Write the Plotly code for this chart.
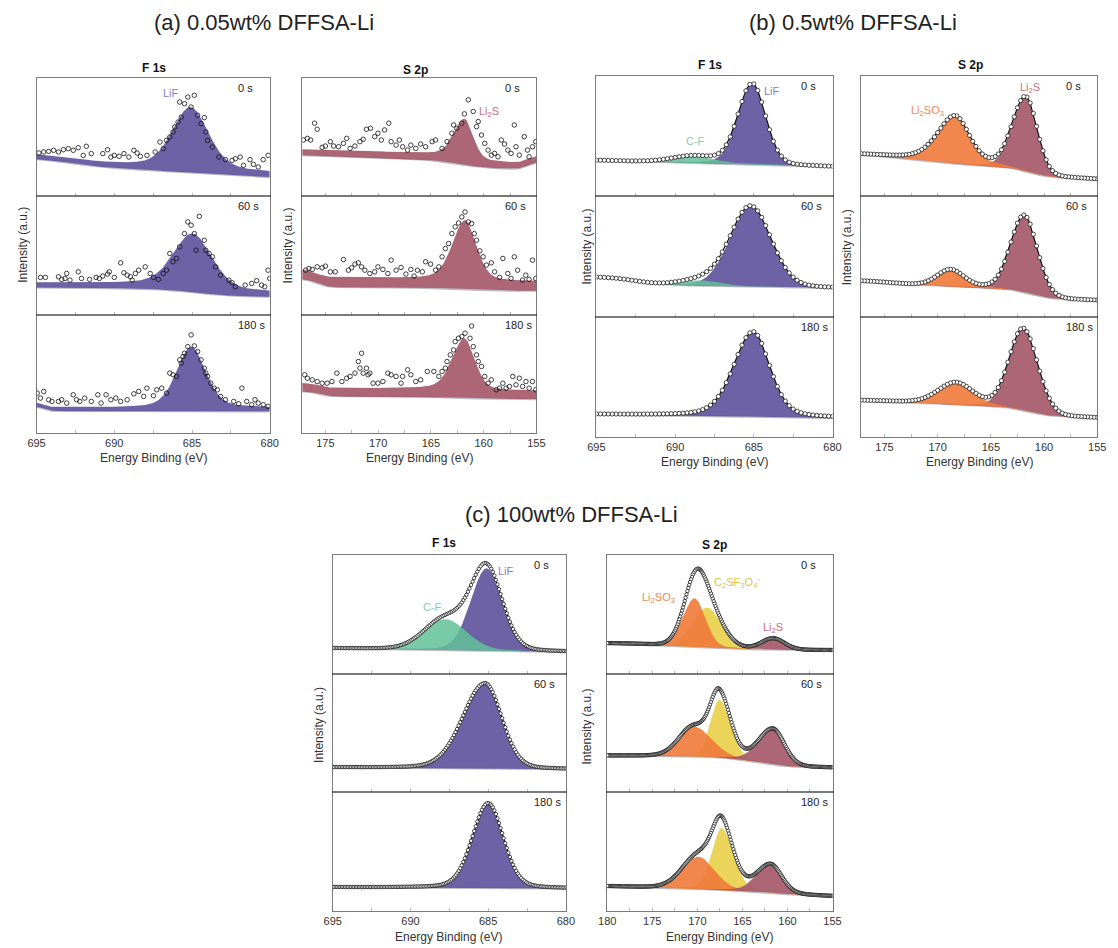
import numpy as np
import plotly.graph_objects as go

W, H = 1118, 948
FONT = "Liberation Sans, Arial, sans-serif"

# ---- energy axes -------------------------------------------------------------
F1S_RANGE = (695.0, 680.0)
S2P_RANGE_AB = (177.2, 155.0)
S2P_RANGE_C = (180.0, 155.0)
F1S_TICKS = [695, 690, 685, 680]
S2P_TICKS_AB = [175, 170, 165, 160, 155]
S2P_TICKS_C = [180, 175, 170, 165, 160, 155]
SPUTTER_TIMES = ["0 s", "60 s", "180 s"]

# ---- backgrounds, one per sputter time ---------------------------------------
# (value at low-BE end, slope per eV, band thickness, [(step, centre eV, width eV)])
A_F1S_BG = [(16.3, 0.75, 4.0, [(4.0, 692.5, 0.8)]),
            (15.0, 0.10, 4.2, [(6.5, 684.8, 1.2)]),
            (18.3, 0.00, 3.0, [(4.5, 694.5, 0.25)])]
A_S2P_BG = [(22.5, 0.28, 5.0, [(6.0, 162.5, 1.2), (7.0, 155.8, -0.4)]),
            (20.2, 0.05, 8.0, [(2.0, 161.5, 1.0), (7.0, 175.8, 0.5)]),
            (28.7, 0.00, 7.0, [(2.0, 161.5, 1.0), (4.5, 175.5, 0.5)])]
B_F1S_BG = [(24.6, 0.36, 0.0, []),
            (24.0, 0.20, 0.0, [(6.0, 692.5, 0.8)]),
            (15.9, 0.19, 0.0, [])]
B_S2P_BG = [(14.1, 0.40, 0.0, [(7.0, 161.5, 0.8), (5.0, 172.0, 2.0)]),
            (13.5, 0.25, 0.0, [(8.0, 161.3, 0.9), (3.0, 174.0, 1.5)]),
            (15.9, 0.25, 0.0, [(7.5, 161.5, 1.0), (1.5, 172.0, 1.5)])]
C_F1S_BG = [(18.4, 0.20, 0.0, []),
            (19.5, 0.10, 0.0, []),
            (19.0, 0.07, 0.0, [])]
C_S2P_BG = [(19.8, 0.00, 0.0, [(3.0, 166.0, 2.0), (3.0, 175.0, 2.0)]),
            (20.7, 0.05, 0.0, [(9.0, 163.5, 1.8)]),
            (12.3, 0.22, 0.0, [(3.0, 162.0, 1.5)])]

# ---- fitted components: (centre eV, height, HWHM high-BE side, HWHM low-BE side, Lorentz fraction)
A_F1S_LIF = [(685.10, 51.4, 1.35, 1.35, 0.30),
             (684.95, 45.5, 1.45, 1.45, 0.30),
             (685.05, 51.7, 1.10, 1.10, 0.35)]
A_S2P_LI2S = [(161.80, 34.0, 1.20, 0.95, 0.35),
              (161.76, 50.1, 1.40, 1.25, 0.30),
              (161.82, 43.2, 1.35, 1.15, 0.30)]

B_F1S_LIF = [(685.10, 67.4, 1.07, 1.00, 0.15),
             (685.20, 67.0, 1.53, 1.52, 0.10),
             (685.05, 70.7, 1.45, 1.25, 0.30)]
B_F1S_CF = [(688.80, 5.5, 1.6, 1.6, 0.0),
            (688.40, 4.5, 1.5, 1.5, 0.0),
            None]
B_S2P_LI2S = [(161.70, 61.5, 1.48, 1.25, 0.10),
              (161.85, 63.9, 1.50, 1.45, 0.10),
              (161.95, 68.0, 1.55, 1.60, 0.10)]
B_S2P_LI2SO3 = [(168.35, 39.8, 2.0, 1.6, 0.40),
                (168.80, 14.1, 1.5, 1.5, 0.20),
                (168.30, 18.4, 2.0, 1.9, 0.20)]

C_F1S_LIF = [(685.10, 69.4, 1.20, 1.20, 0.15),
             (685.20, 72.0, 1.70, 1.27, 0.15),
             (685.00, 71.6, 1.20, 1.15, 0.20)]
C_F1S_CF = [(687.75, 26.0, 1.6, 1.6, 0.10), None, None]
C_S2P_C2SF3O4 = [(168.90, 33.3, 1.90, 1.90, 0.10),
                 (167.55, 48.5, 1.15, 1.45, 0.10),
                 (167.30, 52.0, 1.25, 1.50, 0.25)]
C_S2P_LI2SO3 = [(170.30, 40.8, 1.5, 1.4, 0.10),
                (170.40, 25.3, 1.9, 2.3, 0.10),
                (169.90, 27.2, 2.1, 2.1, 0.10)]
C_S2P_LI2S = [(161.60, 9.5, 1.5, 1.5, 0.10),
              (161.60, 30.1, 1.9, 1.5, 0.15),
              (161.85, 23.5, 1.8, 1.45, 0.20)]

# ---- measured counts for the 0.05wt% sample (binding energy eV, intensity) ----
A_F1S_SCAN_0 = [(694.85, 36.6), (694.54, 37.5), (694.22, 38.0), (693.90, 38.9), (693.59, 37.5),
                (693.27, 39.4), (692.96, 40.3), (692.64, 38.9), (692.32, 41.1), (692.00, 34.6),
                (691.80, 42.3), (691.48, 36.1), (690.74, 36.1), (690.43, 39.4), (690.22, 33.2),
                (690.00, 34.6), (689.69, 33.8), (689.38, 36.1), (689.06, 33.2), (688.74, 38.9),
                (688.53, 36.6), (688.32, 33.8), (687.90, 34.6), (687.37, 37.5), (687.06, 45.9),
                (686.85, 40.3), (686.64, 47.3), (686.43, 50.1), (686.22, 54.4), (686.11, 58.6),
                (685.90, 62.8), (685.79, 79.7), (685.69, 67.0), (685.48, 78.3), (685.27, 83.9),
                (685.06, 75.5), (684.85, 85.4), (684.64, 68.5), (684.42, 61.4), (684.21, 66.5),
                (684.11, 54.4), (684.00, 47.3), (683.69, 41.7), (683.27, 33.2), (682.85, 31.0),
                (682.42, 30.4), (682.21, 31.8), (681.90, 33.2), (681.69, 26.2), (681.27, 31.0),
                (681.05, 27.0), (680.74, 24.8), (680.42, 31.0), (680.10, 34.6)]
A_F1S_SCAN_60 = [(694.75, 31.5), (694.43, 31.5), (693.59, 32.0), (693.38, 29.8), (693.17, 30.6),
                 (693.06, 34.8), (692.85, 29.2), (692.32, 36.2), (692.11, 30.6), (691.59, 29.8),
                 (691.17, 31.5), (690.96, 30.6), (690.74, 32.6), (690.43, 34.3), (690.32, 36.2),
                 (690.00, 31.5), (689.59, 43.8), (689.38, 35.4), (689.17, 33.4), (688.96, 32.0),
                 (688.85, 29.2), (688.64, 34.8), (688.43, 37.6), (688.01, 40.4), (687.69, 34.8),
                 (687.48, 31.5), (687.16, 29.8), (686.85, 34.8), (686.64, 37.6), (686.43, 51.7),
                 (686.22, 44.7), (686.00, 47.5), (685.79, 57.3), (685.48, 68.5), (685.27, 78.4),
                 (685.06, 75.6), (684.85, 68.5), (684.74, 54.5), (684.53, 83.1), (684.21, 62.9),
                 (684.11, 54.5), (683.90, 51.7), (683.69, 48.9), (683.48, 40.4), (683.16, 33.4),
                 (682.63, 29.2), (682.42, 27.0), (682.21, 23.6), (681.58, 25.0), (681.16, 26.4),
                 (680.84, 28.7), (680.53, 25.0), (680.32, 23.6), (680.11, 37.6), (680.00, 30.6)]
A_F1S_SCAN_180 = [(694.96, 33.7), (694.75, 29.5), (694.54, 35.1), (694.22, 28.1), (694.01, 26.7),
                  (693.59, 26.7), (693.38, 28.1), (693.06, 25.3), (692.64, 32.3), (692.43, 28.1),
                  (692.22, 26.7), (691.90, 29.5), (691.48, 26.7), (691.06, 32.3), (690.85, 25.3),
                  (690.53, 32.3), (690.22, 28.1), (689.90, 29.5), (689.59, 26.7), (689.17, 28.1),
                  (688.74, 33.1), (688.43, 35.1), (688.11, 30.9), (687.90, 37.9), (687.48, 31.5),
                  (687.27, 36.5), (686.95, 37.9), (686.64, 33.7), (686.43, 50.6), (686.22, 49.2),
                  (686.00, 47.8), (685.79, 61.8), (685.69, 59.0), (685.58, 64.6), (685.48, 67.4),
                  (685.27, 73.0), (685.06, 82.9), (684.85, 73.6), (684.64, 68.8), (684.42, 61.8),
                  (684.21, 54.8), (684.11, 50.6), (684.00, 47.8), (683.79, 42.1), (683.58, 37.9),
                  (683.37, 36.5), (683.16, 30.9), (682.85, 28.1), (682.32, 26.7), (682.00, 24.7),
                  (681.79, 37.9), (681.48, 26.7), (681.16, 23.9), (680.95, 28.1), (680.74, 25.3),
                  (680.42, 23.9), (680.11, 22.5)]
A_S2P_SCAN_0 = [(177.09, 47.6), (176.71, 49.0), (176.40, 47.6), (176.03, 61.8), (175.78, 56.7),
                (175.31, 41.4), (175.00, 42.5), (174.53, 46.2), (174.22, 42.5), (173.75, 41.9),
                (173.29, 44.8), (172.98, 49.0), (172.66, 40.5), (172.20, 42.5), (171.73, 46.2),
                (171.42, 48.2), (171.11, 56.7), (170.73, 57.5), (170.33, 50.4), (170.02, 53.3),
                (169.70, 47.6), (169.39, 56.1), (168.99, 61.8), (168.77, 46.2), (168.30, 43.3),
                (167.99, 47.6), (167.68, 41.9), (167.21, 39.1), (166.90, 43.3), (166.43, 40.5),
                (165.97, 44.2), (165.50, 41.9), (164.88, 46.2), (164.56, 47.6), (163.94, 40.5),
                (163.47, 46.2), (163.01, 53.3), (162.85, 60.3), (162.54, 57.5), (162.07, 61.8),
                (161.82, 69.7), (161.45, 81.6), (160.98, 71.7), (160.67, 58.9), (160.51, 63.2),
                (160.20, 51.8), (159.89, 44.8), (159.58, 39.1), (159.27, 34.8), (158.96, 36.3),
                (158.64, 33.4), (158.33, 47.6), (158.02, 44.2), (157.71, 39.1), (157.40, 36.3),
                (157.09, 60.3), (156.93, 41.9), (156.62, 34.8), (156.15, 50.4), (155.84, 39.1),
                (155.69, 33.4), (155.37, 41.9), (155.06, 46.2)]
A_S2P_SCAN_60 = [(176.87, 37.6), (176.56, 39.0), (176.25, 38.2), (175.78, 40.4), (175.31, 39.6),
                 (175.00, 41.0), (174.53, 36.2), (174.07, 36.2), (173.29, 46.6), (172.82, 37.6),
                 (172.51, 39.6), (172.20, 42.7), (171.88, 43.8), (171.57, 40.4), (171.26, 37.6),
                 (170.79, 34.8), (170.33, 36.2), (170.02, 40.4), (169.55, 38.2), (169.08, 34.8),
                 (168.77, 46.1), (168.30, 37.6), (167.83, 39.9), (167.37, 34.3), (166.90, 38.2),
                 (166.59, 32.6), (166.28, 37.6), (165.81, 36.2), (165.50, 44.7), (165.03, 42.7),
                 (164.56, 37.6), (164.25, 40.4), (163.94, 48.9), (163.63, 55.9), (163.32, 60.1),
                 (163.01, 68.5), (162.70, 74.2), (162.38, 77.5), (162.07, 82.6), (161.76, 86.8),
                 (161.45, 78.4), (161.14, 77.0), (160.89, 68.5), (160.67, 62.9), (160.36, 53.9),
                 (160.05, 48.9), (159.74, 41.9), (159.27, 43.8), (158.96, 36.2), (158.49, 31.5),
                 (158.18, 47.5), (157.71, 34.8), (157.40, 30.6), (157.09, 48.9), (156.78, 37.6),
                 (156.31, 29.2), (156.00, 33.4), (155.69, 29.8), (155.37, 46.1), (155.06, 30.6)]
A_S2P_SCAN_180 = [(176.96, 49.2), (176.71, 46.3), (176.25, 44.9), (175.78, 43.5), (175.31, 42.1),
                  (174.84, 42.1), (174.38, 43.5), (173.91, 50.6), (173.44, 43.5), (172.98, 46.3),
                  (172.66, 47.8), (172.20, 50.6), (171.88, 60.4), (171.73, 54.8), (171.57, 67.4),
                  (171.42, 50.6), (171.11, 54.8), (170.95, 49.2), (170.79, 50.6), (170.48, 42.1),
                  (170.02, 42.1), (169.55, 43.5), (169.08, 50.6), (168.77, 49.2), (168.30, 47.8),
                  (167.83, 42.1), (167.68, 47.8), (167.21, 53.4), (166.90, 49.2), (166.43, 43.5),
                  (165.97, 44.9), (165.34, 52.0), (164.72, 52.0), (164.25, 47.8), (163.94, 52.0),
                  (163.63, 54.8), (163.47, 60.4), (163.16, 66.0), (162.85, 70.2), (162.70, 77.2),
                  (162.38, 80.1), (162.07, 81.5), (161.76, 84.3), (161.29, 80.1), (161.14, 90.4),
                  (160.98, 73.0), (160.67, 66.0), (160.51, 60.4), (160.20, 56.2), (159.89, 47.8),
                  (159.58, 42.1), (159.27, 44.9), (158.80, 36.5), (158.49, 37.9), (158.18, 42.1),
                  (157.87, 37.9), (157.55, 39.3), (157.24, 47.8), (156.93, 40.7), (156.62, 46.3),
                  (156.31, 39.3), (155.99, 43.5), (155.69, 37.9), (155.37, 43.5), (155.06, 36.5)]

# ---- colours -----------------------------------------------------------------
LIF_FILL = "rgba(98,86,158,0.93)"
CF_FILL = "rgba(98,194,152,0.85)"
LI2S_FILL = "rgba(166,90,106,0.93)"
LI2SO3_FILL = "rgba(240,122,58,0.90)"
C2SF3O4_FILL = "rgba(232,208,76,0.92)"
LIF_TEXT, CF_TEXT, LI2S_TEXT = "#8a7cc4", "#7fcfae", "#c8707e"
LI2SO3_TEXT, C2SF3O4_TEXT = "#f08850", "#e2c440"
FRAME = "rgba(40,40,40,0.62)"

# ---- panel frames in pixels: (left, right, top, bottom) ------------------------
BOX_A_F1S = (28, 265, 78, 433)
BOX_A_S2P = (298, 536, 78, 433)
BOX_B_F1S = (597, 837, 76, 437)
BOX_B_S2P = (866, 1106, 76, 437)
BOX_C_F1S = (329, 566, 555, 911)
BOX_C_S2P = (608, 837, 555, 911)


def background(E, bg, e_lo):
    base, slope, _, steps = bg
    y = base + slope * (E - e_lo)
    for a, c, w in steps:
        y = y + a / (1.0 + np.exp(-(E - c) / w))
    return y


def peak(E, p):
    c, h, hw_hi, hw_lo, eta = p
    hw = np.where(E >= c, hw_hi, hw_lo)
    x = (E - c) / hw
    return h * ((1 - eta) * np.exp(-np.log(2) * x * x) + eta / (1 + x * x))


fig = go.Figure()
layout_axes = {}
annotations = []
axis_count = [0]


def new_axes(box, row, e_range, ticks, bottom):
    axis_count[0] += 1
    n = axis_count[0]
    x0, x1, y0, y1 = box
    h = (y1 - y0) / 3.0
    top = y0 + row * h
    bot = top + h
    sx = "" if n == 1 else str(n)
    e_hi, e_lo = e_range
    tv, tt = [], []
    for t in ticks:
        tv.append(t)
        tt.append(str(t))
        half = t - 2.5
        if half > e_lo:
            tv.append(half)
            tt.append("")
    layout_axes["xaxis" + sx] = dict(
        domain=[x0 / W, x1 / W], range=[e_hi, e_lo], anchor="y" + sx,
        showline=True, mirror=True, linecolor=FRAME, linewidth=1,
        ticks="inside", ticklen=3, tickwidth=1, tickcolor="rgba(140,140,140,0.6)",
        tickvals=tv, ticktext=tt, showticklabels=bottom,
        tickfont=dict(size=11, color="#333", family=FONT),
        showgrid=False, zeroline=False, fixedrange=True)
    layout_axes["yaxis" + sx] = dict(
        domain=[1 - bot / H, 1 - top / H], range=[0, 100], anchor="x" + sx,
        showline=True, mirror=True, linecolor=FRAME, linewidth=1,
        showticklabels=False, ticks="", showgrid=False, zeroline=False, fixedrange=True)
    return "x" + sx, "y" + sx, top


def draw_panel(box, e_range, ticks, bgs, comps, scans=None, step=0.25, msize=4.0):
    e_hi, e_lo = e_range
    E = np.linspace(e_lo, e_hi, 900)
    for row in range(3):
        xa, ya, top = new_axes(box, row, e_range, ticks, row == 2)
        bg = background(E, bgs[row], e_lo)
        band = bgs[row][2]
        fig.add_trace(go.Scatter(x=E, y=bg, mode="lines",
                                 line=dict(color="rgba(160,160,168,0.7)", width=2.2),
                                 xaxis=xa, yaxis=ya, hoverinfo="skip"))
        for params, fill in comps:
            p = params[row]
            if p is None:
                continue
            pk = peak(E, p)
            fig.add_trace(go.Scatter(
                x=np.concatenate([E, E[::-1]]),
                y=np.concatenate([bg + band + pk, bg[::-1]]),
                mode="lines", fill="toself", fillcolor=fill, line=dict(width=0),
                xaxis=xa, yaxis=ya, hoverinfo="skip"))
        if scans is not None:
            pts = scans[row]
            fig.add_trace(go.Scatter(
                x=[e for e, _ in pts], y=[v for _, v in pts], mode="markers",
                marker=dict(symbol="circle-open", size=msize, color="#111", line=dict(width=0.8)),
                xaxis=xa, yaxis=ya, hoverinfo="skip"))
        else:
            def envelope(x):
                y = background(x, bgs[row], e_lo) + band
                for params, _ in comps:
                    if params[row] is not None:
                        y = y + peak(x, params[row])
                return y
            fig.add_trace(go.Scatter(x=E, y=envelope(E), mode="lines",
                                     line=dict(color="#111", width=1.2),
                                     xaxis=xa, yaxis=ya, hoverinfo="skip"))
            Em = np.arange(e_lo, e_hi + 1e-9, step)
            fig.add_trace(go.Scatter(
                x=Em, y=envelope(Em), mode="markers",
                marker=dict(symbol="circle", size=msize, color="white",
                            line=dict(color="#111", width=0.75)),
                xaxis=xa, yaxis=ya, hoverinfo="skip"))
        # sputter time label
        x0, x1, _, _ = box
        annotations.append(dict(x=(x1 - 34) / W, y=1 - (top + 10) / H, xref="paper", yref="paper",
                                text=SPUTTER_TIMES[row], showarrow=False, xanchor="left",
                                yanchor="middle", font=dict(size=11, color="#222", family=FONT)))


def label(x, y, text, size=11, color="#222", bold=False, anchor="center", angle=0):
    if bold:
        text = "<b>" + text + "</b>"
    annotations.append(dict(x=x / W, y=1 - y / H, xref="paper", yref="paper", text=text,
                            showarrow=False, xanchor=anchor, yanchor="middle", textangle=angle,
                            font=dict(size=size, color=color, family=FONT)))


# (a) 0.05wt%
draw_panel(BOX_A_F1S, F1S_RANGE, F1S_TICKS, A_F1S_BG, [(A_F1S_LIF, LIF_FILL)],
           scans=[A_F1S_SCAN_0, A_F1S_SCAN_60, A_F1S_SCAN_180], msize=4.5)
draw_panel(BOX_A_S2P, S2P_RANGE_AB, S2P_TICKS_AB, A_S2P_BG, [(A_S2P_LI2S, LI2S_FILL)],
           scans=[A_S2P_SCAN_0, A_S2P_SCAN_60, A_S2P_SCAN_180], msize=4.5)
# (b) 0.5wt%
draw_panel(BOX_B_F1S, F1S_RANGE, F1S_TICKS, B_F1S_BG,
           [(B_F1S_LIF, LIF_FILL), (B_F1S_CF, CF_FILL)], step=0.25, msize=4.2)
draw_panel(BOX_B_S2P, S2P_RANGE_AB, S2P_TICKS_AB, B_S2P_BG,
           [(B_S2P_LI2S, LI2S_FILL), (B_S2P_LI2SO3, LI2SO3_FILL)], step=0.3, msize=4.2)
# (c) 100wt%
draw_panel(BOX_C_F1S, F1S_RANGE, F1S_TICKS, C_F1S_BG,
           [(C_F1S_LIF, LIF_FILL), (C_F1S_CF, CF_FILL)], step=0.1, msize=3.4)
draw_panel(BOX_C_S2P, S2P_RANGE_C, S2P_TICKS_C, C_S2P_BG,
           [(C_S2P_C2SF3O4, C2SF3O4_FILL), (C_S2P_LI2SO3, LI2SO3_FILL), (C_S2P_LI2S, LI2S_FILL)],
           step=0.1, msize=3.4)

# panel headings
label(145, 22, "(a) 0.05wt% DFFSA-Li", size=22, anchor="left")
label(750, 22, "(b) 0.5wt% DFFSA-Li", size=22, anchor="left")
label(461, 514, "(c) 100wt% DFFSA-Li", size=22, anchor="left")

# core-level titles
for x, y, t in [(147, 68, "F 1s"), (413, 70, "S 2p"), (712, 65, "F 1s"), (977, 65, "S 2p"),
                (442, 543, "F 1s"), (717, 545, "S 2p")]:
    label(x, y, t, size=12, color="#111", bold=True)

# axis titles
for x, y in [(147, 458), (417, 458), (717, 462), (986, 462), (447, 937), (722, 937)]:
    label(x, y, "Energy Binding (eV)", size=12, color="#333")
for x, y in [(14, 245), (284, 245), (587, 247), (852, 247), (315, 725), (587, 727)]:
    label(x, y, "Intensity (a.u.)", size=12, color="#333", angle=-90)

# component labels
label(165, 93, "LiF", color=LIF_TEXT)
label(488, 112, "Li<sub>2</sub>S", color=LI2S_TEXT)
label(775, 91, "LiF", color=LIF_TEXT)
label(698, 141, "C-F", color=CF_TEXT)
label(1038, 88, "Li<sub>2</sub>S", color=LI2S_TEXT)
label(934, 111, "Li<sub>2</sub>SO<sub>3</sub>", color=LI2SO3_TEXT)
label(505, 571, "LiF", color=LIF_TEXT)
label(430, 607, "C-F", color=CF_TEXT)
label(660, 598, "Li<sub>2</sub>SO<sub>3</sub>", color=LI2SO3_TEXT)
label(740, 582, "C<sub>2</sub>SF<sub>3</sub>O<sub>4</sub><sup>-</sup>", color=C2SF3O4_TEXT)
label(776, 628, "Li<sub>2</sub>S", color=LI2S_TEXT)

fig.update_layout(
    width=W, height=H, autosize=False, showlegend=False,
    margin=dict(l=0, r=0, t=0, b=0),
    paper_bgcolor="white", plot_bgcolor="white",
    font=dict(family=FONT),
    annotations=annotations,
    **layout_axes)

fig.write_html("out.html")
